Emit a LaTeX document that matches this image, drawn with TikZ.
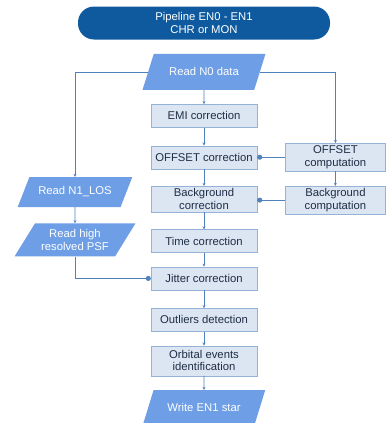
\documentclass[tikz,border=0pt]{standalone}
\usepackage{fontspec}
\setmainfont{Liberation Sans}
\usetikzlibrary{positioning, arrows.meta, shapes.geometric}
\definecolor{pipeblue}{HTML}{0F5A9E}
\definecolor{iofill}{HTML}{6D9EE6}
\definecolor{boxfill}{HTML}{DCE6F2}
\definecolor{boxline}{HTML}{95B3D7}
\definecolor{wire}{HTML}{4F81BD}
\definecolor{boxtext}{HTML}{1F2D45}

\begin{document}
\begin{tikzpicture}[
    x=1pt, y=1pt,
    node distance=16pt,
    every node/.style={font=\fontsize{11.3}{12.5}\selectfont, align=center, inner sep=1pt},
    header/.style={fill=pipeblue, text=white, rounded corners=16pt, minimum width=252pt, minimum height=33pt},
    io/.style={trapezium, trapezium left angle=52, trapezium right angle=128, trapezium stretches=true, fill=iofill, text=white, minimum height=33pt},
    process/.style={draw=boxline, fill=boxfill, text=boxtext, minimum width=106pt, minimum height=23pt},
    compute/.style={process, minimum width=100pt, minimum height=28pt},
    arrow/.style={-{Stealth[length=3pt, width=3pt]}, draw=wire, line width=0.8pt},
    feed/.style={-{Circle[length=5pt]}, draw=wire, line width=0.8pt}
]
\useasboundingbox (0,0) rectangle (389,-423);

\node[header] (0) at (204,-23) {Pipeline EN0 - EN1\\CHR or MON};
\node[io, minimum width=124pt, minimum height=36pt, below=14pt of 0] (1) {Read N0 data};
\node[process, below=14pt of 1] (2) {EMI correction};
\node[process, below=18pt of 2] (3) {OFFSET correction};
\node[process, minimum height=26pt, below=17pt of 3] (4) {Background\\correction};
\node[process, below=17pt of 4] (5) {Time correction};
\node[process, below=14pt of 5] (6) {Jitter correction};
\node[process, below=18pt of 6] (7) {Outliers detection};
\node[process, minimum height=30pt, below=14pt of 7] (8) {Orbital events\\identification};
\node[io, minimum width=123pt, minimum height=35pt, below=14pt of 8] (9) {Write EN1 star};

% side branches
\node[compute, right=28pt of 3] (10) {OFFSET\\computation};
\node[compute, right=28pt of 4, yshift=-1pt] (11) {Background\\computation};
\node[io, minimum width=115pt, minimum height=30pt] (12) at (75,-192) {Read N1\_LOS};
\node[io, minimum width=121pt, below=16pt of 12] (13) {Read high\\resolved PSF};

\draw[arrow] (1) -- (2);
\draw[arrow] (2) -- (3);
\draw[arrow] (3) -- (4);
\draw[arrow] (4) -- (5);
\draw[arrow] (5) -- (6);
\draw[arrow] (6) -- (7);
\draw[arrow] (7) -- (8);
\draw[arrow] (8) -- (9);

\draw[arrow] (1.west) -| (12.north);
\draw[arrow] (12) -- (13);
\draw[arrow] (1.east) -| (10.north);
\draw[arrow] (10) -- (11);
\draw[feed] (10.west) -- (3.east);
\draw[feed] (11.west) -- (11.west -| 4.east);
\draw[feed] (13.south) |- (6.west);
\end{tikzpicture}
\end{document}
